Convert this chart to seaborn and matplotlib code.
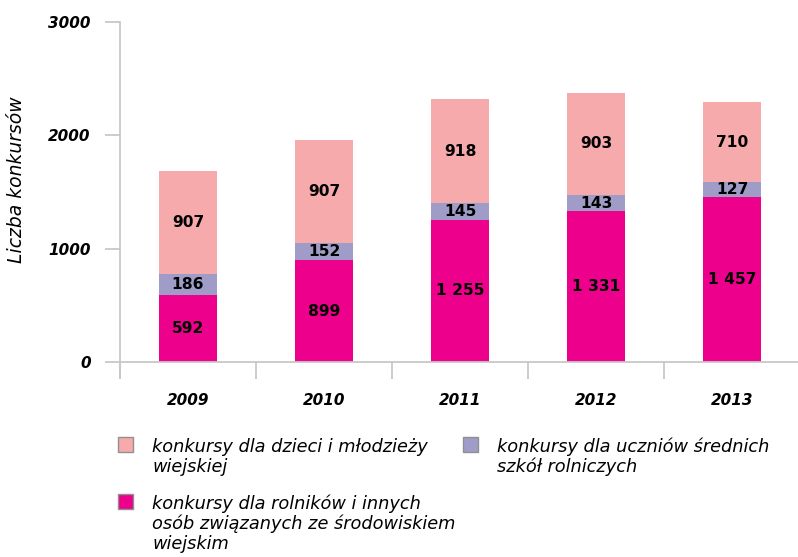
import matplotlib.pyplot as plt
import seaborn as sns
import numpy as np
from matplotlib.patches import Rectangle

years = ["2009", "2010", "2011", "2012", "2013"]
rolnicy = [592, 899, 1255, 1331, 1457]
uczniowie = [186, 152, 145, 143, 127]
dzieci = [907, 907, 918, 903, 710]

labels = [
    "konkursy dla dzieci i młodzieży\nwiejskiej",
    "konkursy dla uczniów średnich\nszkół rolniczych",
    "konkursy dla rolników i innych\nosób związanych ze środowiskiem\nwiejskim",
]
colors = ["#F6AAAC", "#A09CC8", "#EC008C"]

W, H = 798, 557

sns.set_style("white")
plt.rcParams["font.family"] = ["DejaVu Sans"]
plt.rcParams["text.color"] = "black"
plt.rcParams["xtick.color"] = "black"
plt.rcParams["ytick.color"] = "black"

fig = plt.figure(figsize=(W / 100, H / 100), dpi=100)
ax = fig.add_axes([120 / W, 1 - 362 / H, 680 / W, 340 / H])

# stacked bars drawn as overlapping cumulative totals
s1 = np.array(rolnicy)
s2 = s1 + np.array(uczniowie)
s3 = s2 + np.array(dzieci)

for tot, col in [(s3, colors[0]), (s2, colors[1]), (s1, colors[2])]:
    sns.barplot(x=years, y=tot, color=col, saturation=1, width=0.43,
                linewidth=0, ax=ax)

def fmt(v):
    return f"{v:,}".replace(",", " ")

for i in range(len(years)):
    for bottom, val in [(0, rolnicy[i]), (s1[i], uczniowie[i]), (s2[i], dzieci[i])]:
        ax.text(i, bottom + val / 2, fmt(val), ha="center", va="center",
                fontsize=11.2, fontweight="bold", color="black")

ax.set_xlim(-0.5, 4.5)
ax.set_ylim(0, 3000)
ax.set_yticks([0, 1000, 2000, 3000])
ax.set_yticklabels(["0", "1000", "2000", "3000"], fontsize=11,
                   fontweight="bold", fontstyle="italic", color="black")
ax.set_xticks(range(len(years)))
ax.set_xticklabels(years, fontsize=11, fontweight="bold", fontstyle="italic",
                   color="black")
ax.set_xticks(np.arange(-0.5, 4.0, 1.0), minor=True)
ax.tick_params(axis="x", which="both", bottom=True)
ax.tick_params(axis="x", which="major", length=0, pad=22)
ax.tick_params(axis="x", which="minor", length=12, width=1.3,
               color="#C8C8C8", direction="out")
ax.tick_params(axis="y", left=True, length=11, width=1.3, color="#C8C8C8",
               direction="out", pad=10)
ax.set_xlabel("")
ax.set_ylabel("")

sns.despine(ax=ax)
for sp in ["left", "bottom"]:
    ax.spines[sp].set_color("#C8C8C8")
    ax.spines[sp].set_linewidth(1.3)
ax.spines["left"].set_bounds(-140, 3000)

fig.text(17 / W, 1 - 180 / H, "Liczba konkursów", rotation=90,
         ha="center", va="center", fontsize=13.5, fontstyle="italic",
         color="black")

# legend
legend_pos = [(118, 437), (463, 437), (118, 494)]
for (px, py), lab, col in zip(legend_pos, labels, colors):
    fig.patches.append(Rectangle((px / W, 1 - (py + 15) / H), 15 / W, 15 / H,
                                 transform=fig.transFigure, facecolor=col,
                                 edgecolor="#909090", linewidth=1))
    for k, line in enumerate(lab.split("\n")):
        fig.text((px + 34) / W, 1 - (py + 15 + 20 * k) / H, line,
                 ha="left", va="baseline", fontsize=12.8, fontstyle="italic",
                 color="black")

fig.savefig("out.png", dpi=100)
